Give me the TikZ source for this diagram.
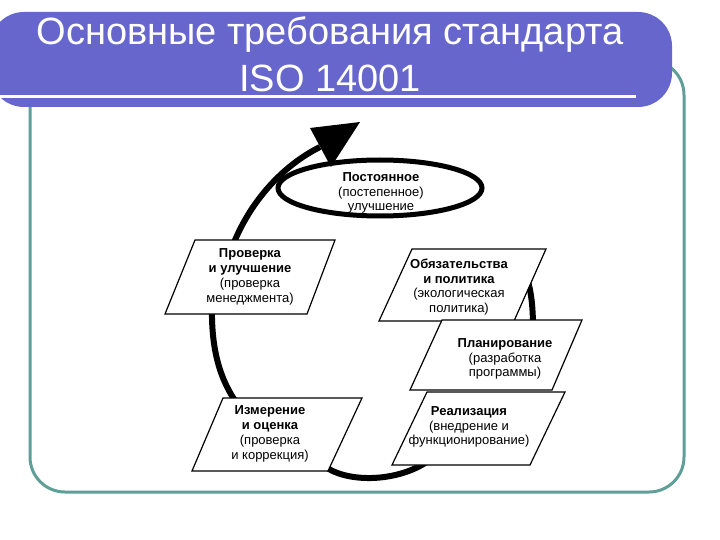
\documentclass[tikz,border=0pt]{standalone}
\usepackage{fontspec}
\setmainfont{Liberation Sans}
\usetikzlibrary{shapes.geometric}
\definecolor{barblue}{RGB}{102,102,204}
\definecolor{frameteal}{RGB}{96,158,152}
\begin{document}
\begin{tikzpicture}[x=1pt,y=-1pt,
  box/.style={draw=black, fill=white, line width=1.2pt, line join=miter},
  lbl/.style={align=center, font=\fontsize{13}{14.8}\selectfont, inner sep=0pt},
  flow/.style={line width=6pt, line cap=butt},
  ttl/.style={text=white, font=\fontsize{38}{44}\selectfont, inner sep=0pt}]
\useasboundingbox (0,0) rectangle (720,540);
% frame
\draw[frameteal, line width=3pt, rounded corners=35pt] (30,60) rectangle (684,492);
% title bar
\fill[barblue, rounded corners=34pt] (-10,12) -- (672,12) -- (672,107) -- (-10,107) -- cycle;
\fill[white] (0,95.5) rectangle (636,98.5);
\node[ttl] (t1) at (330,35) {Основные требования стандарта};
\node[ttl] (t2) at (330,78) {ISO 14001};
% box corner coordinates
\coordinate (c1) at (195,240); \coordinate (c2) at (335,240); \coordinate (c3) at (307,314); \coordinate (c4) at (165,314);
\coordinate (o1) at (412,249); \coordinate (o2) at (546,249); \coordinate (o3) at (514,321); \coordinate (o4) at (379,321);
\coordinate (p1) at (442,320); \coordinate (p2) at (582,320); \coordinate (p3) at (552,390); \coordinate (p4) at (410,390);
\coordinate (r1) at (427,392); \coordinate (r2) at (565,392); \coordinate (r3) at (530,465); \coordinate (r4) at (392,465);
\coordinate (m1) at (223,398); \coordinate (m2) at (362,398); \coordinate (m3) at (328,471); \coordinate (m4) at (192,471);
% arrowhead coordinates
\coordinate (tip) at (360,122); \coordinate (hb1) at (310,128); \coordinate (hb2) at (331,167);
\coordinate (hbase) at (320,147);
% cycle curves (under the boxes)
\draw[flow] (233,245) .. controls (250,202) and (282,166) .. (hbase);
\draw[flow] (212,305) .. controls (211,350) and (220,380) .. (238,405);
\draw[flow] (320,462) .. controls (340,484) and (400,484) .. (432,458);
\draw[flow] (520,262) .. controls (530,280) and (533,300) .. (533,328);
\fill (tip) -- (hb1) -- (hb2) -- cycle;
% ellipse
\node[draw, ellipse, line width=5pt, minimum width=204pt, minimum height=56pt, inner sep=0pt] (imp) at (380,188) {};
\node[lbl] (impt) at (381,193) {\textbf{Постоянное}\\(постепенное)\\улучшение};
% boxes
\draw[box] (c1) -- (c2) -- (c3) -- (c4) -- cycle;
\node[lbl] (chk) at (250,277) {\textbf{Проверка}\\\textbf{и улучшение}\\(проверка\\менеджмента)};
\draw[box] (o1) -- (o2) -- (o3) -- (o4) -- cycle;
\node[lbl] (obl) at (459,287) {\textbf{Обязательства}\\\textbf{и политика}\\(экологическая\\политика)};
\draw[box] (p1) -- (p2) -- (p3) -- (p4) -- cycle;
\node[lbl] (pln) at (505,359) {\textbf{Планирование}\\(разработка\\программы)};
\draw[box] (r1) -- (r2) -- (r3) -- (r4) -- cycle;
\node[lbl] (rea) at (469,427) {\textbf{Реализация}\\(внедрение и\\функционирование)};
\draw[box] (m1) -- (m2) -- (m3) -- (m4) -- cycle;
\node[lbl] (msr) at (270,434) {\textbf{Измерение}\\\textbf{и оценка}\\(проверка\\и коррекция)};
\end{tikzpicture}
\end{document}
